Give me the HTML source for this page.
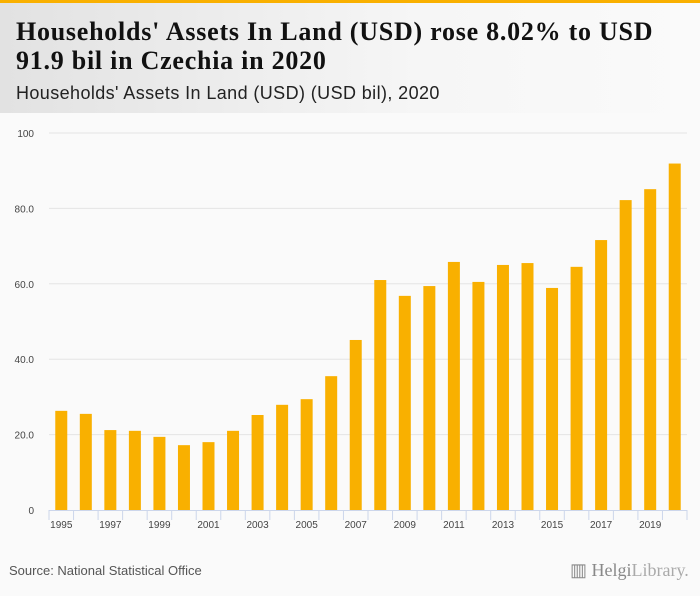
<!DOCTYPE html>
<html><head><meta charset="utf-8"><style>
body{margin:0;width:700px;height:596px;background:#fafafa;font-family:"Liberation Sans",sans-serif;overflow:hidden;position:relative}
#topbar{position:absolute;left:0;top:0;width:700px;height:3px;background:#f9b000}
#header{position:absolute;left:0;top:3px;width:700px;height:110px;background:linear-gradient(90deg,#e2e2e2,#f6f6f6 60%,#fafafa)}
#title{position:absolute;left:16px;top:14px;font-family:"Liberation Serif",serif;font-weight:bold;font-size:26px;letter-spacing:0.75px;line-height:29px;color:#111;white-space:nowrap}
#subtitle{position:absolute;left:16px;top:80px;font-size:18px;letter-spacing:0.4px;color:#222}
#source{position:absolute;left:9px;top:563px;font-size:13px;color:#555}
#logo{position:absolute;left:570px;top:560px;font-family:"Liberation Serif",serif;font-size:18px;color:#888}
</style></head><body>
<div id="topbar"></div>
<div id="header">
<div id="title">Households' Assets In Land (USD) rose 8.02% to USD<br>91.9 bil in Czechia in 2020</div>
<div id="subtitle">Households' Assets In Land (USD) (USD bil), 2020</div>
</div>
<svg id="chart" width="700" height="596" style="position:absolute;left:0;top:0"></svg>
<div id="source">Source: National Statistical Office</div>
<div id="logo">▥ Helgi<span style="color:#aaa">Library.</span></div>
<script>
const years=[1995,1996,1997,1998,1999,2000,2001,2002,2003,2004,2005,2006,2007,2008,2009,2010,2011,2012,2013,2014,2015,2016,2017,2018,2019,2020];
const values=[26.3,25.5,21.2,21.0,19.4,17.2,18.0,21.0,25.2,27.9,29.4,35.5,45.1,61.0,56.8,59.4,65.8,60.5,65.0,65.5,58.9,64.5,71.6,82.2,85.1,91.9];
const yTicks=[0,20,40,60,80,100];
const yTickLabels=["0","20.0","40.0","60.0","80.0","100"];
const svg=document.getElementById('chart');
const NS='http://www.w3.org/2000/svg';
const x0=49,x1=687,y0=510,y1=133;
const bw=(x1-x0)/years.length;
function xs(i){return x0+bw*i+bw/2;}
function ys(v){return y0-(v/100)*(y0-y1);}
function mk(t,a){const e=document.createElementNS(NS,t);for(const k in a)e.setAttribute(k,a[k]);svg.appendChild(e);return e;}
yTicks.forEach((t,i)=>{
  if(t>0){const g=mk('line',{x1:x0,x2:x1,y1:ys(t),y2:ys(t),stroke:'#e4e4e4','stroke-width':1});
  
  }
  const l=mk('text',{x:34,y:ys(t)+4,'text-anchor':'end','font-size':10,fill:'#444','font-family':'Liberation Sans, sans-serif'});
  l.textContent=yTickLabels[i];
  
  
});
values.forEach((v,i)=>{
  const r=mk('rect',{x:xs(i)-6,y:ys(v),width:12,height:y0-ys(v),fill:'#f9b000'});
  
  
});
const ax=mk('line',{x1:x0,x2:x1,y1:y0+0.5,y2:y0+0.5,stroke:'#ccd6eb'});


for(let i=0;i<=years.length;i++){
  const t=mk('line',{x1:x0+bw*i,x2:x0+bw*i,y1:y0,y2:y0+10,stroke:'#ccd6eb'});
  
  
}
years.forEach((yr,i)=>{
  if(i%2)return;
  const l=mk('text',{x:xs(i),y:y0+18,'text-anchor':'middle','font-size':10,fill:'#444','font-family':'Liberation Sans, sans-serif'});
  l.textContent=yr;
  
  
});
</script>
</body></html>
